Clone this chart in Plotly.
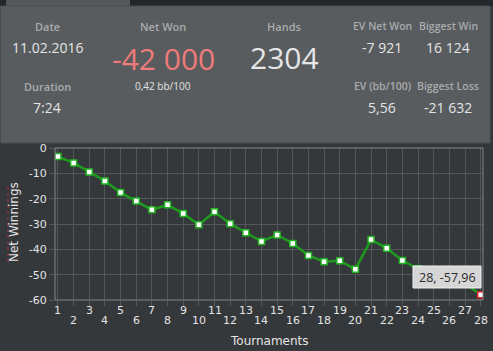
import plotly.graph_objects as go

tournaments = list(range(1, 29))
net_winnings = [-3.4, -5.9, -9.45, -13.0, -17.6, -20.9, -24.4, -22.45, -25.9, -30.3,
                -25.2, -29.9, -33.5, -36.9, -34.3, -37.7, -42.4, -44.9, -44.5, -47.9,
                -36.1, -39.6, -44.4, -47.7, -50.6, -53.7, -53.4, -57.96]
y_ticks = [0, -10, -20, -30, -40, -50, -60]
y_ticktext = ["0", "-10", "-20", "-30", "-40", "-50", "-60"]
x_ticktext = [str(t) for t in tournaments]

header_labels = ["Date", "Duration", "Net Won", "Hands", "EV Net Won", "EV (bb/100)",
                 "Biggest Win", "Biggest Loss"]
header_values = ["11.02.2016", "7:24", "-42 000", "2304", "-7 921", "5,56", "16 124", "-21 632"]
net_won_sub = "0,42 bb/100"
tooltip_text = "28, -57,96"

W, H = 493, 351
L, R, T, B = 55, 10, 148, 51
PW, PH = W - L - R, H - T - B


def px(x):
    return (x - L) / PW


def py(y):
    return (H - B - y) / PH


CHART_BG = "#35383b"
PANEL = "#585c5f"
GRID = "#54575a"
TXT = "#e4e4e4"
LBL = "#a9abad"

fig = go.Figure()
fig.add_trace(go.Scatter(
    x=tournaments, y=net_winnings, mode="lines+markers",
    line=dict(color="#1e9a1e", width=2.5),
    marker=dict(symbol="square", size=6, color="white",
                line=dict(color=["#22b322"] * 27 + ["#e02020"], width=1.5)),
    hoverinfo="skip", showlegend=False,
))

shapes = []
shapes.append(dict(type="rect", xref="paper", yref="paper", x0=px(0), x1=px(W), y0=py(6), y1=py(0),
                   fillcolor="#23272b", line=dict(width=0), layer="below"))
shapes.append(dict(type="rect", xref="paper", yref="paper", x0=px(6), x1=px(130), y0=py(6), y1=py(0),
                   fillcolor="#54585b", line=dict(width=0), layer="below"))
shapes.append(dict(type="rect", xref="paper", yref="paper", x0=px(0.5), x1=px(490), y0=py(143), y1=py(6),
                   fillcolor=PANEL, line=dict(color="#4a4e51", width=1), layer="below"))
shapes.append(dict(type="rect", xref="paper", yref="paper", x0=0, x1=1, y0=0, y1=1,
                   line=dict(color="#85888b", width=1), layer="above"))
shapes.append(dict(type="line", xref="paper", yref="paper", x0=px(8), x1=px(8), y0=py(262), y1=py(186),
                   line=dict(color="#b03030", width=1, dash="dot")))

annotations = []


def ann(x, y, text, size, color, weight="normal", family="Open Sans"):
    annotations.append(dict(xref="paper", yref="paper", x=px(x), y=py(y), text=text, showarrow=False,
                            xanchor="center", yanchor="middle",
                            font=dict(size=size, color=color, family=family, weight=weight)))


ann(47, 26, header_labels[0], 11, LBL, 600)
ann(47, 47, header_values[0], 14, TXT)
ann(47, 86, header_labels[1], 11, LBL, 600)
ann(47, 107, header_values[1], 14, TXT)
ann(163, 26, header_labels[2], 11, LBL, 600)
ann(163, 58, header_values[2], 30, "#ef7a7a")
ann(163, 86, net_won_sub, 10, TXT)
ann(284, 26, header_labels[3], 11, LBL, 600)
ann(284, 57, header_values[3], 30, "#e6e6e6")
ann(382, 26, header_labels[4], 10.5, LBL, 600)
ann(382, 47, header_values[4], 14, TXT)
ann(382, 86, header_labels[5], 10.5, LBL, 600)
ann(382, 107, header_values[5], 14, TXT)
ann(448, 26, header_labels[6], 10.5, LBL, 600)
ann(448, 47, header_values[6], 14, TXT)
ann(448, 86, header_labels[7], 10.5, LBL, 600)
ann(448, 107, header_values[7], 14, TXT)

# staggered x tick labels, placed on the data x scale
for t, lab in zip(tournaments, x_ticktext):
    annotations.append(dict(xref="x", yref="paper", x=t, y=py(310 if t % 2 == 1 else 320.5),
                            text=lab, showarrow=False, xanchor="center", yanchor="middle",
                            font=dict(family="DejaVu Sans", size=11, color=TXT)))
# axis titles
ann(269, 341, "Tournaments", 12, TXT, family="DejaVu Sans")
annotations.append(dict(xref="paper", yref="paper", x=px(14), y=py(222), text="Net Winnings",
                        textangle=-90, showarrow=False, xanchor="center", yanchor="middle",
                        font=dict(family="DejaVu Sans", size=12, color=TXT)))

shapes.append(dict(type="rect", xref="paper", yref="paper", x0=px(413), x1=px(481), y0=py(288), y1=py(266),
                   fillcolor="#d6d6d6", line=dict(color="#f0f0f0", width=1), layer="above"))
annotations.append(dict(xref="paper", yref="paper", x=px(447), y=py(277), text=tooltip_text,
                        showarrow=False, xanchor="center", yanchor="middle",
                        font=dict(size=12.5, color="#2a2a2a", family="Open Sans")))

fig.update_layout(
    width=W, height=H,
    margin=dict(l=L, r=R, t=T, b=B, pad=0),
    paper_bgcolor=CHART_BG, plot_bgcolor=CHART_BG,
    shapes=shapes, annotations=annotations,
    xaxis=dict(range=[0.81, 28.15], tickvals=tournaments, showticklabels=False,
               showgrid=True, gridcolor=GRID, gridwidth=1, zeroline=False,
               ticks="outside", ticklen=5, tickcolor=GRID, showline=False, automargin=False),
    yaxis=dict(range=[-60, 0], tickvals=y_ticks, ticktext=y_ticktext,
               showgrid=True, gridcolor=GRID, gridwidth=1, zeroline=False,
               ticks="outside", ticklen=5, tickcolor=GRID, showline=False, automargin=False,
               tickfont=dict(family="DejaVu Sans", size=11, color=TXT)),
)

fig.write_html("out.html")
